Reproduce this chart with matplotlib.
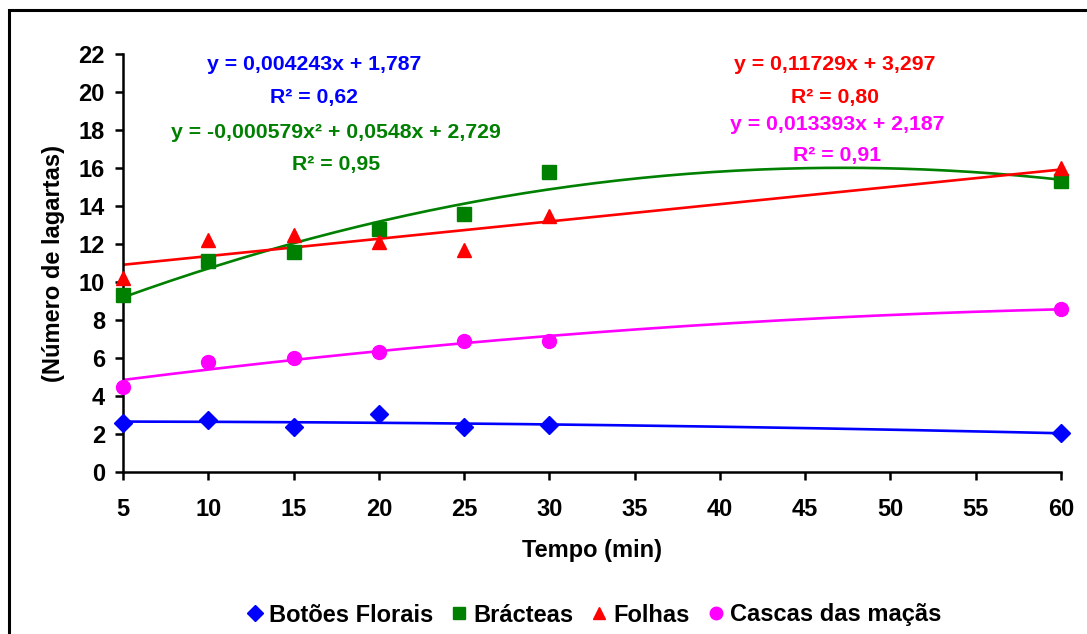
import numpy as np
import matplotlib.pyplot as plt
from matplotlib.patches import Rectangle
from matplotlib.lines import Line2D

plt.rcParams['font.family'] = ['Liberation Sans', 'DejaVu Sans']
plt.rcParams['font.weight'] = 'bold'

# data
tempo = [5, 10, 15, 20, 25, 30, 60]
botoes = [2.6, 2.75, 2.35, 3.05, 2.35, 2.45, 2.05]
bracteas = [9.3, 11.1, 11.6, 12.8, 13.6, 15.8, 15.3]
folhas = [10.2, 12.2, 12.5, 12.1, 11.7, 13.5, 16.0]
cascas = [4.5, 5.8, 6.0, 6.3, 6.9, 6.9, 8.6]

series_names = ['Botões Florais', 'Brácteas', 'Folhas', 'Cascas das maçãs']
colors = ['#0000FF', '#008000', '#FF0000', '#FF00FF']
markers = ['D', 's', '^', 'o']
trend_degree = [2, 2, 1, 2]

eq_texts = ['y = 0,004243x + 1,787', 'y = -0,000579x² + 0,0548x + 2,729',
            'y = 0,11729x + 3,297', 'y = 0,013393x + 2,187']
r2_texts = ['R² = 0,62', 'R² = 0,95', 'R² = 0,80', 'R² = 0,91']

W, H = 1087, 634
fig = plt.figure(figsize=(W / 100, H / 100), dpi=100)
ax = fig.add_axes([123 / W, 1 - 472 / H, (1061 - 123) / W, (472 - 54) / H])

# outer chart border (runs off the right/bottom edge like the original)
fig.patches.append(Rectangle((9 / W, -0.05), 1.1, 1 - 10 / H + 0.05, transform=fig.transFigure,
                             fill=False, edgecolor='black', linewidth=2.2))

xs = np.linspace(5, 60, 200)
all_y = [botoes, bracteas, folhas, cascas]
for y, c, m, deg in zip(all_y, colors, markers, trend_degree):
    coef = np.polyfit(tempo, y, deg)
    ax.plot(xs, np.polyval(coef, xs), color=c, linewidth=1.9, zorder=2)
    ms = 9 if m == 'D' else 10
    ax.plot(tempo, y, linestyle='none', marker=m, color=c, markersize=ms, zorder=3, clip_on=False)

ax.set_xlim(5, 60)
ax.set_ylim(0, 22)
ax.set_xticks(range(5, 61, 5))
ax.set_yticks(range(0, 23, 2))
for s in ['top', 'right']:
    ax.spines[s].set_visible(False)
for s in ['left', 'bottom']:
    ax.spines[s].set_linewidth(1.8)
ax.tick_params(direction='out', length=6, width=1.8, labelsize=17, pad=7)
for lab in ax.get_xticklabels() + ax.get_yticklabels():
    lab.set_fontweight('bold')
ax.tick_params(axis='x', pad=13)

ax.set_xlabel('Tempo (min)', fontsize=17, fontweight='bold', labelpad=13)
ax.set_ylabel('(Número de lagartas)', fontsize=17, fontweight='bold', labelpad=10)

# trend line equations
eq_pos = [(314, 64, 97), (336, 133, 165), (835, 64, 97), (837, 125, 156)]
for (px, py1, py2), c, e, r in zip(eq_pos, colors, eq_texts, r2_texts):
    fig.text(px / W, 1 - py1 / H, e, color=c, fontsize=15.3, fontweight='bold', ha='center', va='center')
    fig.text(px / W, 1 - py2 / H, r, color=c, fontsize=15.3, fontweight='bold', ha='center', va='center')

handles = [Line2D([], [], linestyle='none', marker=m, color=c, markersize=8 if m == 'D' else 9)
           for m, c in zip(markers, colors)]
fig.legend(handles, series_names, loc='center', bbox_to_anchor=(592 / W, 1 - 615 / H), ncol=4,
           frameon=False, prop={'size': 17, 'weight': 'bold'}, handletextpad=0.1,
           columnspacing=0.6, handlelength=1.0)

fig.savefig('out.png', dpi=100)
